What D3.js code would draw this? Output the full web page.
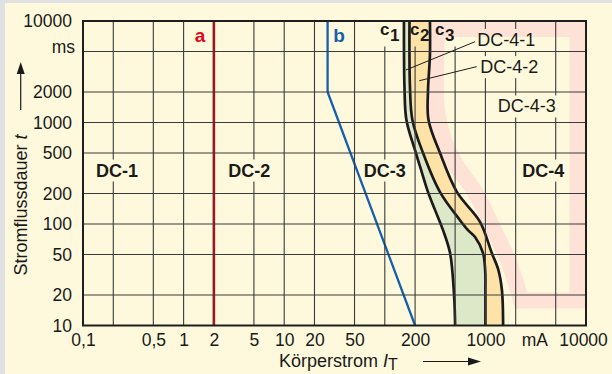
<!DOCTYPE html>
<html>
<head>
<meta charset="utf-8">
<script src="https://cdn.jsdelivr.net/npm/d3@7"></script>
<style>
  html, body { margin: 0; padding: 0; background: #dfe1e3; }
  svg { display: block; font-family: "Liberation Sans", Arial, Helvetica, sans-serif; }
</style>
</head>
<body>
<svg id="chart" width="612" height="374"></svg>
<script>
// Körperstrom in mA, Stromflussdauer in ms
const xTicks = [0.1, 0.5, 1, 2, 5, 10, 20, 50, 200, 1000, 10000];
const xTickLabels = ["0,1", "0,5", "1", "2", "5", "10", "20", "50", "200", "1000", "10000"];
const xGrid = [0.2, 0.5, 1, 2, 5, 10, 20, 50, 100, 200, 500, 1000, 2000, 5000];
const yTicks = [10000, 5000, 2000, 1000, 500, 200, 100, 50, 20, 10];
const yTickLabels = ["10000", "ms", "2000", "1000", "500", "200", "100", "50", "20", "10"];
const yGrid = [5000, 2000, 1000, 500, 200, 100, 50, 20];

// limit curves [mA, ms]
const curveA = [[2, 10000], [2, 10]];
const curveB = [[27, 10000], [27, 2000], [200, 10]];
const curveC1 = [[155, 10000], [157, 2190], [164, 1060], [204, 500], [233, 325], [269, 206],
                 [316, 137], [379, 87], [445, 52], [488, 20], [500, 10]];
const curveC2 = [[176, 10000], [178, 2190], [188, 1060], [240, 500], [354, 206], [559, 109],
                 [671, 87], [789, 74.5], [946, 52], [995, 35], [1000, 22], [1000, 10]];
const curveC3 = [[281, 10000], [281, 4620], [269, 2090], [272, 1060], [354, 500], [522, 206],
                 [884, 105], [1156, 52], [1349, 35], [1462, 22], [1500, 10]];
// outline of zone DC-4-3 (left edge, then bottom/right/top)
const zoneEdge = [[330, 8340], [330, 1330], [387, 673], [510, 382], [789, 206], [1218, 87],
                  [1679, 44], [2014, 26], [2260, 17.6]];
const zoneCorners = [[8240, 17.6], [8240, 8340]];

const zoneLabels = [
  { text: "DC-1", mA: 0.218, ms: 340 },
  { text: "DC-2", mA: 4.5, ms: 340 },
  { text: "DC-3", mA: 100, ms: 340 },
  { text: "DC-4", mA: 3760, ms: 340 }
];
const subLabels = [
  { text: "DC-4-1", mA: 1614, ms: 6580 },
  { text: "DC-4-2", mA: 1724, ms: 3550 },
  { text: "DC-4-3", mA: 2573, ms: 1455 }
];
const leaders = [
  [[789, 6250], [162, 3290]],
  [[819, 3550], [220, 2580]]
];
const curveLabels = [
  { c: "c", sub: "1", mA: 89.5, ms: 7280 },
  { c: "c", sub: "2", mA: 178, ms: 7280 },
  { c: "c", sub: "3", mA: 315, ms: 7280 }
];

const W = 612, H = 374;
const plot = { left: 83, right: 586, top: 21, bottom: 325.5 };

const x = d3.scaleLog().domain([0.1, 10000]).range([plot.left, plot.right]);
const y = d3.scaleLog().domain([10, 10000]).range([plot.bottom, plot.top]);

const svg = d3.select("#chart");

svg.append("rect")
  .attr("x", 5).attr("y", 3)
  .attr("width", W - 5).attr("height", H - 3)
  .attr("fill", "#fef9dc");

const defs = svg.append("defs");
defs.append("clipPath").attr("id", "plotClip")
  .append("rect")
  .attr("x", plot.left).attr("y", plot.top)
  .attr("width", plot.right - plot.left).attr("height", plot.bottom - plot.top);

const mask = defs.append("mask").attr("id", "gridMask")
  .attr("maskUnits", "userSpaceOnUse")
  .attr("x", 0).attr("y", 0).attr("width", W).attr("height", H);
mask.append("rect").attr("width", W).attr("height", H).attr("fill", "white");

const smooth = d3.line()
  .x(d => x(d[0])).y(d => y(d[1]))
  .curve(d3.curveCatmullRom.alpha(0.5));
const straight = d3.line()
  .x(d => x(d[0])).y(d => y(d[1]));

const inner = svg.append("g").attr("clip-path", "url(#plotClip)");

// pink band around DC-4-3
let zonePath = smooth(zoneEdge);
zoneCorners.forEach(p => { zonePath += "L" + x(p[0]) + "," + y(p[1]); });
zonePath += "Z";
inner.append("path")
  .attr("d", zonePath)
  .attr("fill", "none")
  .attr("stroke", "#fde2d5")
  .attr("stroke-width", 16)
  .attr("stroke-linejoin", "miter");

// fills between c-curves
function band(a, b) {
  return smooth(a) + "L" + smooth(b.slice().reverse()).slice(1) + "Z";
}
inner.append("path").attr("d", band(curveC1, curveC2)).attr("fill", "#dde8c8");
inner.append("path").attr("d", band(curveC2, curveC3)).attr("fill", "#fee3a8");

// grid
const grid = svg.append("g").attr("mask", "url(#gridMask)")
  .attr("stroke", "#3b3b3b").attr("stroke-width", 1.1);
grid.selectAll(".gx").data(xGrid).join("line")
  .attr("x1", d => x(d)).attr("x2", d => x(d))
  .attr("y1", plot.top).attr("y2", plot.bottom);
grid.selectAll(".gy").data(yGrid).join("line")
  .attr("y1", d => y(d)).attr("y2", d => y(d))
  .attr("x1", plot.left).attr("x2", plot.right);

// curves
inner.append("path").attr("d", straight(curveA))
  .attr("fill", "none").attr("stroke", "#e3051b").attr("stroke-width", 2.6);
inner.append("path").attr("d", straight(curveB))
  .attr("fill", "none").attr("stroke", "#1660ab").attr("stroke-width", 2.3);
[curveC1, curveC2, curveC3].forEach(c => {
  inner.append("path").attr("d", smooth(c))
    .attr("fill", "none").attr("stroke", "#1b1b1b").attr("stroke-width", 2.7);
});

// frame
svg.append("rect")
  .attr("x", plot.left).attr("y", plot.top)
  .attr("width", plot.right - plot.left).attr("height", plot.bottom - plot.top)
  .attr("fill", "none").attr("stroke", "#1e1e1e").attr("stroke-width", 2);

// leader lines
svg.selectAll(".leader").data(leaders).join("path")
  .attr("d", d => straight(d))
  .attr("stroke", "#1e1e1e").attr("stroke-width", 1).attr("fill", "none");

const masked = [];

svg.selectAll(".zone").data(zoneLabels).join("text")
  .attr("x", d => x(d.mA)).attr("y", d => y(d.ms)).attr("dy", "0.36em")
  .attr("text-anchor", "middle")
  .attr("font-size", 18).attr("font-weight", "bold").attr("fill", "#1a1a1a")
  .text(d => d.text)
  .each(function () { masked.push({ node: this, top: false }); });

svg.selectAll(".sub").data(subLabels).join("text")
  .attr("x", d => x(d.mA)).attr("y", d => y(d.ms)).attr("dy", "0.36em")
  .attr("text-anchor", "middle")
  .attr("font-size", 18).attr("fill", "#1a1a1a")
  .text(d => d.text)
  .each(function () { masked.push({ node: this, top: false }); });

const cl = svg.selectAll(".clab").data(curveLabels).join("text")
  .attr("x", d => x(d.mA)).attr("y", d => y(d.ms))
  .attr("font-size", 17).attr("font-weight", "bold").attr("fill", "#1a1a1a");
cl.append("tspan").text(d => d.c);
cl.append("tspan").attr("dy", 6.5).attr("dx", 0.5).text(d => d.sub);
cl.each(function () { masked.push({ node: this, top: true }); });

svg.append("text")
  .attr("x", x(1.46)).attr("y", y(7280)).attr("dy", "0.36em")
  .attr("text-anchor", "middle")
  .attr("font-size", 19).attr("font-weight", "bold").attr("fill", "#e3051b")
  .text("a");
svg.append("text")
  .attr("x", x(35)).attr("y", y(7280)).attr("dy", "0.36em")
  .attr("text-anchor", "middle")
  .attr("font-size", 19).attr("font-weight", "bold").attr("fill", "#1660ab")
  .text("b");

masked.forEach(m => {
  const b = m.node.getBBox();
  const top = m.top ? plot.top : b.y - 1;
  mask.append("rect")
    .attr("x", b.x - 3).attr("y", top)
    .attr("width", b.width + 6).attr("height", b.y + b.height + 1 - top)
    .attr("fill", "black");
});

// axes
const xAxis = svg.append("g")
  .attr("transform", `translate(0,${plot.bottom})`)
  .call(d3.axisBottom(x).tickValues(xTicks)
    .tickFormat((d, i) => xTickLabels[i]).tickSize(0).tickPadding(8));
xAxis.select(".domain").remove();
xAxis.selectAll("text")
  .attr("font-size", 17.5).attr("fill", "#1a1a1a")
  .attr("font-family", "Liberation Sans, Arial, sans-serif")
  .attr("dx", d => d === 10000 ? -3 : 0);

svg.append("text")
  .attr("x", x(10000) - 38).attr("y", plot.bottom + 8).attr("dy", "0.71em")
  .attr("text-anchor", "end").attr("font-size", 17.5).attr("fill", "#1a1a1a")
  .text("mA");

const yAxis = svg.append("g")
  .attr("transform", `translate(${plot.left},0)`)
  .call(d3.axisLeft(y).tickValues(yTicks)
    .tickFormat((d, i) => yTickLabels[i]).tickSize(0).tickPadding(11));
yAxis.select(".domain").remove();
yAxis.selectAll("text")
  .attr("font-size", 17.5).attr("fill", "#1a1a1a")
  .attr("font-family", "Liberation Sans, Arial, sans-serif");
yAxis.selectAll("text").filter(d => d === 5000)
  .attr("dy", "0.03em").attr("dx", 3);

// axis titles
const xt = svg.append("text")
  .attr("x", 279).attr("y", 367)
  .attr("font-size", 18).attr("fill", "#1a1a1a");
xt.append("tspan").text("Körperstrom ");
xt.append("tspan").attr("font-style", "italic").text("I");
xt.append("tspan").attr("dy", 3).attr("font-size", 16).text("T");

const yt = svg.append("text")
  .attr("transform", "translate(26.5,205) rotate(-90)")
  .attr("text-anchor", "middle")
  .attr("font-size", 18).attr("fill", "#1a1a1a");
yt.append("tspan").text("Stromflussdauer ");
yt.append("tspan").attr("font-style", "italic").text("t");

// arrows
svg.append("line").attr("x1", 423).attr("x2", 470).attr("y1", 361.5).attr("y2", 361.5)
  .attr("stroke", "#1a1a1a").attr("stroke-width", 1.2);
svg.append("path").attr("d", "M481,361.5 L468,357.5 L468,365.5 Z").attr("fill", "#1a1a1a");
svg.append("line").attr("x1", 20.7).attr("x2", 20.7).attr("y1", 110).attr("y2", 72)
  .attr("stroke", "#1a1a1a").attr("stroke-width", 1.2);
svg.append("path").attr("d", "M20.7,62 L16.7,74 L24.7,74 Z").attr("fill", "#1a1a1a");
</script>
</body>
</html>
